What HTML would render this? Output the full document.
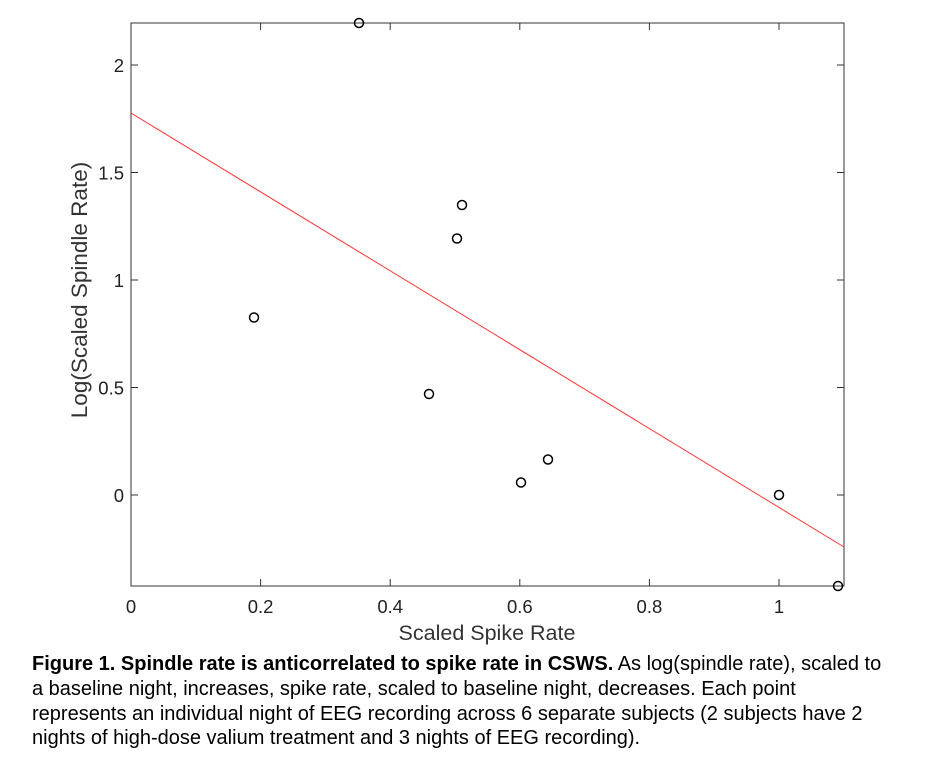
<!DOCTYPE html>
<html><head><meta charset="utf-8"><style>
body{margin:0;background:#fff;width:936px;height:770px;overflow:hidden;font-family:"Liberation Sans",sans-serif}
.cap{position:absolute;left:32px;top:652px;font-size:20px;line-height:24.8px;color:#000;white-space:nowrap}
</style></head><body>
<svg width="936" height="650" style="position:absolute;left:0;top:0" font-family="Liberation Sans, sans-serif">
<rect x="131" y="23" width="713" height="563" fill="none" stroke="#333" stroke-width="1"/>
<g stroke="#333" stroke-width="1">
<line x1="131" y1="586" x2="131" y2="579"/><line x1="260.6" y1="586" x2="260.6" y2="579"/><line x1="390.2" y1="586" x2="390.2" y2="579"/><line x1="519.8" y1="586" x2="519.8" y2="579"/><line x1="649.4" y1="586" x2="649.4" y2="579"/><line x1="779" y1="586" x2="779" y2="579"/>
<line x1="131" y1="23" x2="131" y2="30"/><line x1="260.6" y1="23" x2="260.6" y2="30"/><line x1="390.2" y1="23" x2="390.2" y2="30"/><line x1="519.8" y1="23" x2="519.8" y2="30"/><line x1="649.4" y1="23" x2="649.4" y2="30"/><line x1="779" y1="23" x2="779" y2="30"/>
<line x1="131" y1="65" x2="138" y2="65"/><line x1="131" y1="172.5" x2="138" y2="172.5"/><line x1="131" y1="280" x2="138" y2="280"/><line x1="131" y1="387.5" x2="138" y2="387.5"/><line x1="131" y1="495" x2="138" y2="495"/>
<line x1="844" y1="65" x2="837" y2="65"/><line x1="844" y1="172.5" x2="837" y2="172.5"/><line x1="844" y1="280" x2="837" y2="280"/><line x1="844" y1="387.5" x2="837" y2="387.5"/><line x1="844" y1="495" x2="837" y2="495"/>
</g>
<g font-size="18.5" fill="#222" text-anchor="middle">
<text x="131" y="613">0</text><text x="260.6" y="613">0.2</text><text x="390.2" y="613">0.4</text><text x="519.8" y="613">0.6</text><text x="649.4" y="613">0.8</text><text x="779" y="613">1</text>
</g>
<g font-size="18.5" fill="#222" text-anchor="end">
<text x="124" y="72">2</text><text x="124" y="179.5">1.5</text><text x="124" y="287">1</text><text x="124" y="394.5">0.5</text><text x="124" y="502">0</text>
</g>
<text x="487" y="640" font-size="21.5" fill="#333" text-anchor="middle">Scaled Spike Rate</text>
<text transform="translate(87,290) rotate(-90)" font-size="22.5" fill="#333" text-anchor="middle">Log(Scaled Spindle Rate)</text>
<line x1="131" y1="113" x2="844" y2="547" stroke="#f33" stroke-width="1"/>
<g fill="none" stroke="#000" stroke-width="1.5">
<circle cx="359" cy="23" r="4.5"/><circle cx="462" cy="205" r="4.5"/><circle cx="457" cy="238.5" r="4.5"/><circle cx="254" cy="317.5" r="4.5"/><circle cx="429" cy="394" r="4.5"/><circle cx="521" cy="482.5" r="4.5"/><circle cx="548" cy="459.5" r="4.5"/><circle cx="779" cy="495" r="4.5"/><circle cx="838" cy="586" r="4.5"/>
</g>
</svg>
<div class="cap"><b>Figure 1. Spindle rate is anticorrelated to spike rate in CSWS.</b> As log(spindle rate), scaled to<br>a baseline night, increases, spike rate, scaled to baseline night, decreases. Each point<br>represents an individual night of EEG recording across 6 separate subjects (2 subjects have 2<br>nights of high-dose valium treatment and 3 nights of EEG recording).</div>
</body></html>
